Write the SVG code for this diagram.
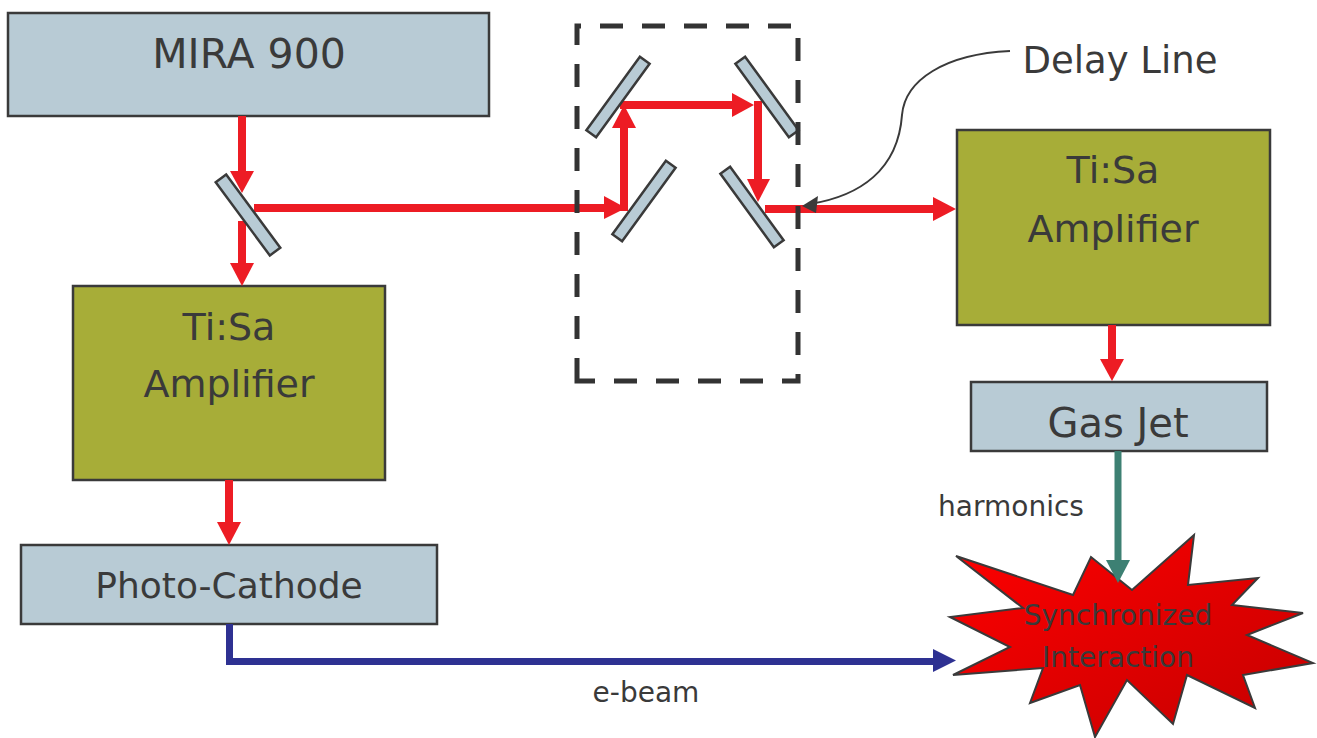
<svg xmlns="http://www.w3.org/2000/svg" width="1317" height="738" viewBox="0 0 1317 738">
<defs>
<style>
.box{fill:#B8CBD5;stroke:#3a3a3a;stroke-width:2.5}
.amp{fill:#A7AD38;stroke:#3a3a3a;stroke-width:2.5}
.mir{fill:#B8CBD5;stroke:#3a3a3a;stroke-width:2.5}
.t{font-family:"DejaVu Sans","Liberation Sans",sans-serif;fill:#3a3a3a;text-anchor:middle}
.red{stroke:#ED1C24;stroke-width:8;fill:none}
.redh{fill:#ED1C24}
</style>
<linearGradient id="burst" x1="0" y1="0" x2="1" y2="1">
<stop offset="0" stop-color="#FF0000"/>
<stop offset="1" stop-color="#C40000"/>
</linearGradient>
</defs>
<rect width="1317" height="738" fill="#ffffff"/>

<g id="mira">
<rect class="box" x="8" y="13" width="481" height="103"/>
<text class="t" x="249" y="68" font-size="41">MIRA 900</text>
</g>

<g id="amp-left">
<rect class="amp" x="73" y="286" width="312" height="194"/>
<text class="t" x="229" y="340" font-size="38">Ti:Sa</text>
<text class="t" x="229" y="397" font-size="38">Amplifier</text>
</g>

<g id="photocathode">
<rect class="box" x="21" y="545" width="416" height="79"/>
<text class="t" x="229" y="598" font-size="36">Photo-Cathode</text>
</g>

<g id="amp-right">
<rect class="amp" x="957" y="130" width="313" height="195"/>
<text class="t" x="1113" y="183" font-size="38">Ti:Sa</text>
<text class="t" x="1113" y="242" font-size="38">Amplifier</text>
</g>

<g id="gasjet">
<rect class="box" x="971" y="382" width="296" height="69"/>
<text class="t" x="1118" y="437" font-size="40">Gas Jet</text>
</g>

<g id="interaction">
<polygon fill="url(#burst)" stroke="#3a3a3a" stroke-width="2" points="956,556 1073,595 1091,557 1132,590 1194,535 1188,585 1258,578 1232,605 1303,613 1247,635 1313,663 1243,675 1255,708 1187,675 1173,724 1127,680 1095,737 1080,685 1030,703 1043,668 953,675 1010,647 950,617 1023,608"/>
<text class="t" x="1118" y="625" font-size="28">Synchronized</text>
<text class="t" x="1118" y="667" font-size="28">Interaction</text>
</g>

<g id="labels">
<text class="t" x="1011" y="516" font-size="28">harmonics</text>
<text class="t" x="646" y="702" font-size="28">e-beam</text>
</g>

<g id="connectors">
<line class="red" x1="242" y1="116" x2="242" y2="172"/>
<polygon class="redh" points="230,171 254,171 242,193"/>
<line class="red" x1="242" y1="221" x2="242" y2="264"/>
<polygon class="redh" points="230,263 254,263 242,286"/>
<line class="red" x1="254" y1="208" x2="605" y2="208"/>
<polygon class="redh" points="604,196 604,219 626,208"/>
<line class="red" x1="624" y1="211" x2="624" y2="127"/>
<polygon class="redh" points="612,128 636,128 624,105"/>
<line class="red" x1="620" y1="105" x2="733" y2="105"/>
<polygon class="redh" points="732,93 732,117 754,105"/>
<line class="red" x1="758" y1="101" x2="758" y2="180"/>
<polygon class="redh" points="747,179 770,179 758,202"/>
<line class="red" x1="765" y1="209" x2="934" y2="209"/>
<polygon class="redh" points="933,197 933,221 956,209"/>
<line class="red" x1="1112" y1="325" x2="1112" y2="360"/>
<polygon class="redh" points="1100,359 1124,359 1112,381"/>
<line class="red" x1="229" y1="480" x2="229" y2="523"/>
<polygon class="redh" points="217,522 241,522 229,545"/>
<line x1="1118" y1="451" x2="1118" y2="561" stroke="#3D8073" stroke-width="7"/>
<polygon fill="#3D8073" points="1106,560 1130,560 1118,583"/>
<path d="M229.5,624 V661.5 H934" fill="none" stroke="#2E3192" stroke-width="7"/>
<polygon fill="#2E3192" points="933,649 933,672 956,660.5"/>
<path d="M1010,51 C945,54 905,80 902,115 C898,170 860,196 810,204" fill="none" stroke="#3a3a3a" stroke-width="2"/>
<polygon fill="#3a3a3a" points="802,206 818,196 816,213"/>
</g>

<g id="mirrors">
<rect class="mir" x="-45.5" y="-6.5" width="91" height="13" transform="translate(248,215) rotate(53.5)"/>
<rect class="mir" x="-45.5" y="-6" width="91" height="12" transform="translate(618,97) rotate(-54)"/>
<rect class="mir" x="-45.5" y="-6" width="91" height="12" transform="translate(644,201) rotate(-54)"/>
<rect class="mir" x="-45.5" y="-6" width="91" height="12" transform="translate(767,97) rotate(54)"/>
<rect class="mir" x="-45.5" y="-6" width="91" height="12" transform="translate(752,207) rotate(54)"/>
</g>

<g id="delay-line">
<path d="M577,381 V26 H798 V381 Z" fill="none" stroke="#333333" stroke-width="5" stroke-dasharray="23 19" stroke-dashoffset="0"/>
<text class="t" x="1120" y="73" font-size="37">Delay Line</text>
</g>
</svg>
